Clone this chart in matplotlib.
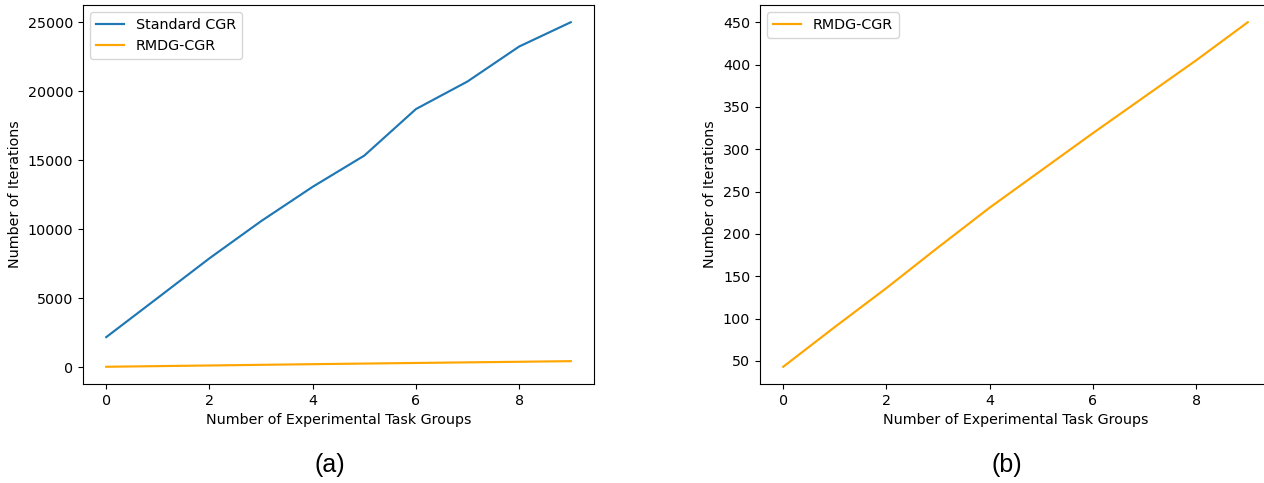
import numpy as np
import matplotlib
matplotlib.use("Agg")
import matplotlib.pyplot as plt

# task groups and iteration counts
groups = np.arange(10)
standard_cgr = [2190, 5040, 7900, 10590, 13080, 15340, 18710, 20710, 23240, 25000]
rmdg_cgr = [43, 90, 136, 184, 231, 275, 319, 362, 405, 450]

plt.rcParams['font.size'] = 10.3
plt.rcParams['lines.linewidth'] = 1.55

fig = plt.figure(figsize=(12.64, 4.83), dpi=100)

# (a) both methods
ax1 = fig.add_axes([83 / 1264, 99 / 483, 511 / 1264, 379 / 483])
ax1.plot(groups, standard_cgr, label='Standard CGR', color='tab:blue')
ax1.plot(groups, rmdg_cgr, label='RMDG-CGR', color='orange')
ax1.set_xlabel('Number of Experimental Task Groups')
ax1.set_ylabel('Number of Iterations')
ax1.legend(loc='upper left')

# (b) RMDG-CGR alone, axes runs past the right edge as in the original
ax2 = fig.add_axes([760 / 1264, 99 / 483, 511 / 1264, 379 / 483])
ax2.plot(groups, rmdg_cgr, label='RMDG-CGR', color='orange')
ax2.set_xlabel('Number of Experimental Task Groups')
ax2.set_ylabel('Number of Iterations')
ax2.spines['right'].set_visible(False)
ax2.legend(loc='upper left')

fig.text(330 / 1264, 1 - 465 / 483, '(a)', ha='center', va='center',
         fontsize=18, family='Liberation Sans')
fig.text(1007 / 1264, 1 - 465 / 483, '(b)', ha='center', va='center',
         fontsize=18, family='Liberation Sans')

fig.savefig('out.png', dpi=100)
